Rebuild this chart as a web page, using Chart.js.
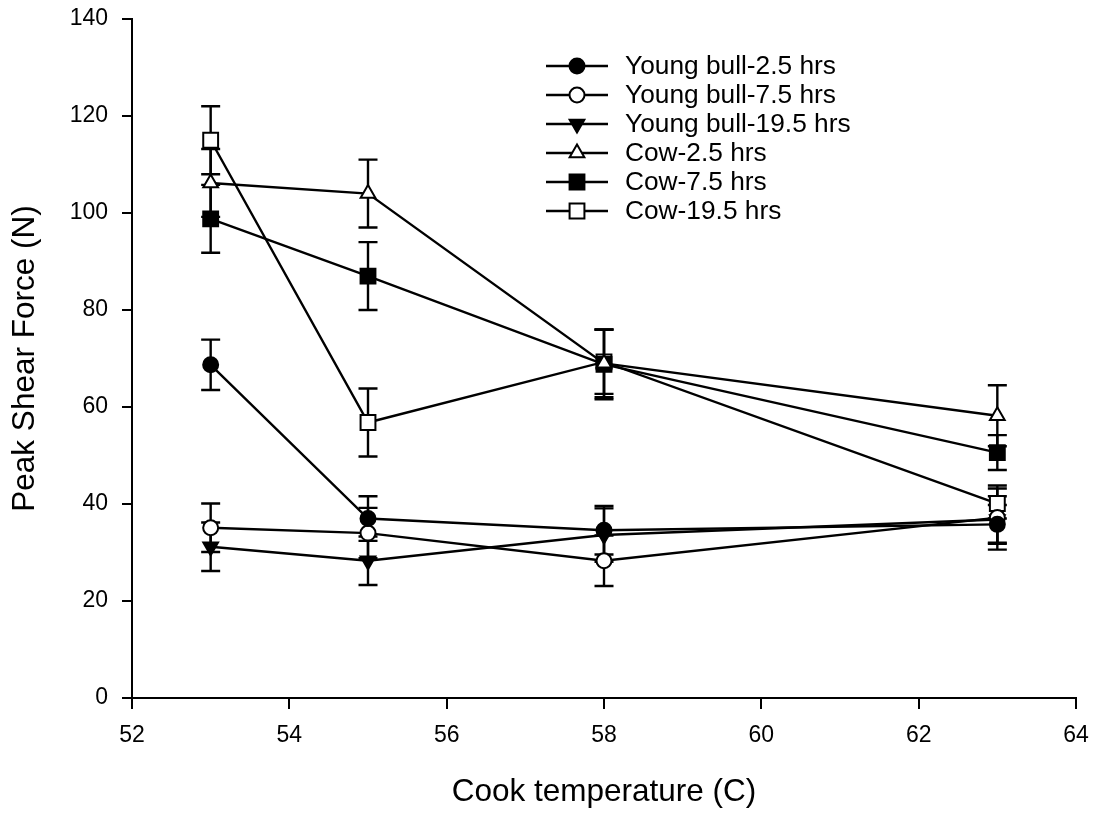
<!DOCTYPE html>
<html>
<head>
<meta charset="utf-8">
<script src="https://cdn.jsdelivr.net/npm/chart.js@4/dist/chart.umd.min.js"></script>
<style>
  html, body { margin: 0; padding: 0; background: #fff; }
  #wrap { width: 1096px; height: 814px; }
</style>
</head>
<body>
<div id="wrap"><canvas id="c" width="1096" height="814"></canvas></div>
<script>
// Peak shear force vs cook temperature, young bull vs cow at three cook times.
const temps = [53, 55, 58, 63];
const xTicks = [52, 54, 56, 58, 60, 62, 64];
const yTicks = [0, 20, 40, 60, 80, 100, 120, 140];

const labels = ["Young bull-2.5 hrs", "Young bull-7.5 hrs", "Young bull-19.5 hrs",
                "Cow-2.5 hrs", "Cow-7.5 hrs", "Cow-19.5 hrs"];

const yb25 = [68.7, 37.0, 34.6, 35.8];
const yb75 = [35.1, 34.0, 28.3, 37.2];
const yb195 = [31.2, 28.3, 33.6, 36.8];
const cow25 = [106.2, 104.0, 69.0, 58.2];
const cow75 = [98.8, 87.0, 68.8, 50.6];
const cow195 = [115.0, 56.8, 69.3, 40.1];

// standard errors (symmetric bars)
const yb25Err = [5.2, 4.6, 5.0, 4.0];
const yb75Err = [5.0, 5.2, 5.2, 6.6];
const yb195Err = [5.0, 5.0, 5.5, 4.8];
const cow25Err = [7.0, 7.0, 7.0, 6.3];
const cow75Err = [7.0, 7.0, 7.2, 3.6];
const cow195Err = [7.0, 7.0, 6.6, 3.1];

const series = [yb25, yb75, yb195, cow25, cow75, cow195];
const errors = [yb25Err, yb75Err, yb195Err, cow25Err, cow75Err, cow195Err];

// marker look per series
const markers = [
  { style: "circle", radius: 7.5, fill: "#000", rot: 0 },
  { style: "circle", radius: 7.5, fill: "#fff", rot: 0 },
  { style: "triangle", radius: 8.5, fill: "#000", rot: 180 },
  { style: "triangle", radius: 8.5, fill: "#fff", rot: 0 },
  { style: "rect", radius: 10.5, fill: "#000", rot: 0 },
  { style: "rect", radius: 10.5, fill: "#fff", rot: 0 },
];

const FONT = "'Liberation Sans', Arial, sans-serif";

const datasets = series.map((vals, i) => ({
  label: labels[i],
  data: vals.map((v, j) => ({ x: temps[j], y: v })),
  borderColor: "#000",
  borderWidth: 2.4,
  pointStyle: markers[i].style,
  pointRadius: markers[i].radius,
  pointRotation: markers[i].rot,
  pointBackgroundColor: markers[i].fill,
  pointBorderColor: "#000",
  pointBorderWidth: 2,
  tension: 0,
  fill: false,
}));

// vertical error bars with caps, drawn behind lines and markers
const errorBars = {
  id: "errorBars",
  beforeDatasetsDraw(chart) {
    const { ctx, scales: { x, y } } = chart;
    ctx.save();
    ctx.strokeStyle = "#000";
    ctx.lineWidth = 2.4;
    series.forEach((vals, i) => {
      vals.forEach((v, j) => {
        const px = x.getPixelForValue(temps[j]);
        const top = y.getPixelForValue(v + errors[i][j]);
        const bot = y.getPixelForValue(v - errors[i][j]);
        ctx.beginPath();
        ctx.moveTo(px, top); ctx.lineTo(px, bot);
        ctx.moveTo(px - 9.5, top); ctx.lineTo(px + 9.5, top);
        ctx.moveTo(px - 9.5, bot); ctx.lineTo(px + 9.5, bot);
        ctx.stroke();
      });
    });
    ctx.restore();
  },
};

// legend inside the plot: line sample with marker, then label
const insideLegend = {
  id: "insideLegend",
  afterDraw(chart) {
    const ctx = chart.ctx;
    const x0 = 546, x1 = 608, mx = 577, tx = 625, y0 = 66, dy = 29;
    ctx.save();
    ctx.font = `26.3px ${FONT}`;
    ctx.textBaseline = "middle";
    labels.forEach((lab, i) => {
      const yy = y0 + i * dy;
      ctx.strokeStyle = "#000";
      ctx.lineWidth = 2.4;
      ctx.beginPath();
      ctx.moveTo(x0, yy); ctx.lineTo(x1, yy);
      ctx.stroke();
      ctx.lineWidth = 2;
      ctx.fillStyle = markers[i].fill;
      Chart.helpers.drawPoint(ctx, {
        pointStyle: markers[i].style, radius: markers[i].radius,
        rotation: markers[i].rot, borderWidth: 2,
      }, mx, yy);
      ctx.fillStyle = "#000";
      ctx.fillText(lab, tx, yy + 1);
    });
    ctx.restore();
  },
};

new Chart(document.getElementById("c"), {
  type: "line",
  data: { datasets },
  plugins: [errorBars, insideLegend],
  options: {
    responsive: false,
    animation: false,
    layout: { padding: { top: 19, right: 20, left: 0, bottom: 0 } },
    plugins: { legend: { display: false }, tooltip: { enabled: false } },
    scales: {
      x: {
        type: "linear", min: 52, max: 64,
        afterFit: (s) => { s.height = 116; s.paddingLeft = 0; s.paddingRight = 0; },
        afterBuildTicks: (s) => { s.ticks = xTicks.map((v) => ({ value: v })); },
        grid: { drawOnChartArea: false, drawTicks: true, tickLength: 11, color: "#000", lineWidth: 2 },
        border: { color: "#000", width: 2 },
        ticks: { color: "#000", padding: 13, font: { family: FONT, size: 23 } },
        title: { display: true, text: "Cook temperature (C)", color: "#000", padding: 3,
                 font: { family: FONT, size: 31.5 } },
      },
      y: {
        min: 0, max: 140,
        afterFit: (s) => { s.width = 132; s.paddingTop = 0; s.paddingBottom = 0; },
        afterBuildTicks: (s) => { s.ticks = yTicks.map((v) => ({ value: v })); },
        grid: { drawOnChartArea: false, drawTicks: true, tickLength: 10, color: "#000", lineWidth: 2 },
        border: { color: "#000", width: 2 },
        ticks: { color: "#000", padding: 14, font: { family: FONT, size: 23 } },
        title: { display: true, text: "Peak Shear Force (N)", color: "#000", padding: 6,
                 font: { family: FONT, size: 31.5 } },
      },
    },
  },
});
</script>
</body>
</html>
